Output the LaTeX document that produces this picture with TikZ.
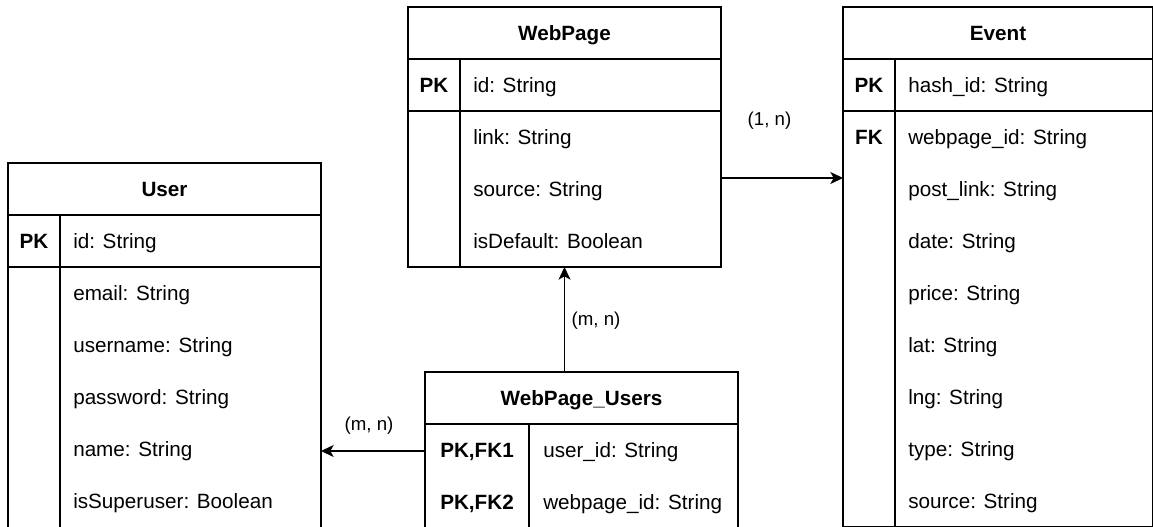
\documentclass[tikz,border=0pt]{standalone}
\usepackage{fontspec}
\setmainfont{Liberation Sans}
\usetikzlibrary{arrows.meta,calc}
\begin{document}
\begin{tikzpicture}[x=0.75pt,y=-0.75pt,
  tbl/.style={draw, line width=1.1pt, anchor=north west, inner sep=0pt, outer sep=0pt},
  sepline/.style={line width=1.1pt},
  title/.style={font=\bfseries\fontsize{15.5}{18}\selectfont, inner sep=0pt, anchor=base, yshift=-5.5pt},
  keyt/.style={font=\bfseries\fontsize{15.5}{18}\selectfont, inner sep=0pt, anchor=base, yshift=-5.5pt},
  field/.style={font=\fontsize{15.5}{18}\selectfont, inner sep=0pt, anchor=base west, yshift=-5.5pt},
  lbl/.style={font=\fontsize{14}{16}\selectfont, inner sep=0pt},
  rel/.style={line width=1.1pt, -{Stealth[length=9.5pt,width=9pt,inset=2.5pt]}}
]
\clip (0,0) rectangle (1153,526);
\useasboundingbox (0,0) rectangle (1153,526);
\fill[white] (0,0) rectangle (1153,526);

% ---------- WebPage ----------
\node[tbl, minimum width=234.75pt, minimum height=195pt] (webpage) at (408,7) {};
\draw[sepline] (408,59) -- (721,59);
\draw[sepline] (408,111) -- (721,111);
\draw[sepline] (460,59) -- (460,267);
\node[title] (wpT) at (564.5,33) {WebPage};
\node[keyt] (wpK1) at (434,85) {PK};
\node[field] (wpF1) at (473,85) {id: String};
\node[field] (wpF2) at (473,137) {link: String};
\node[field] (wpF3) at (473,189) {source: String};
\node[field] (wpF4) at (473,241) {isDefault: Boolean};

% ---------- Event ----------
\node[tbl, minimum width=232.4pt, minimum height=390pt] (event) at (843,7) {};
\draw[sepline] (843,59) -- (1153,59);
\draw[sepline] (843,111) -- (1153,111);
\draw[sepline] (895,59) -- (895,527);
\node[title] (evT) at (998,33) {Event};
\node[keyt] (evK1) at (869,85) {PK};
\node[field] (evF1) at (908,85) {hash\_id: String};
\node[keyt] (evK2) at (869,137) {FK};
\node[field] (evF2) at (908,137) {webpage\_id: String};
\node[field] (evF3) at (908,189) {post\_link: String};
\node[field] (evF4) at (908,241) {date: String};
\node[field] (evF5) at (908,293) {price: String};
\node[field] (evF6) at (908,345) {lat: String};
\node[field] (evF7) at (908,397) {lng: String};
\node[field] (evF8) at (908,449) {type: String};
\node[field] (evF9) at (908,501) {source: String};

% ---------- User ----------
\node[tbl, minimum width=234.75pt, minimum height=312pt] (user) at (8,163) {};
\draw[sepline] (8,215) -- (321,215);
\draw[sepline] (8,267) -- (321,267);
\draw[sepline] (60,215) -- (60,579);
\node[title] (usT) at (164.5,189) {User};
\node[keyt] (usK1) at (34,241) {PK};
\node[field] (usF1) at (73,241) {id: String};
\node[field] (usF2) at (73,293) {email: String};
\node[field] (usF3) at (73,345) {username: String};
\node[field] (usF4) at (73,397) {password: String};
\node[field] (usF5) at (73,449) {name: String};
\node[field] (usF6) at (73,501) {isSuperuser: Boolean};

% ---------- WebPage_Users ----------
\node[tbl, minimum width=234.75pt, minimum height=117pt] (wpu) at (425,372) {};
\draw[sepline] (425,424) -- (738,424);
\draw[sepline] (529,424) -- (529,528);
\node[title] (wuT) at (581.5,398) {WebPage\_Users};
\node[keyt] (wuK1) at (477,450) {PK,FK1};
\node[field] (wuF1) at (543,450) {user\_id: String};
\node[keyt] (wuK2) at (477,502) {PK,FK2};
\node[field] (wuF2) at (543,502) {webpage\_id: String};

% ---------- relations ----------
\draw[rel] ($(webpage.north east)+(0,171)$) -- ($(event.north west)+(0,171)$);
\node[lbl] (l1) at (769.5,121) {(1, n)};

\draw[rel] (webpage.south |- wpu.north) -- (webpage.south);
\node[lbl] (l2) at (596,321) {(m, n)};

\coordinate (wuRow) at (0,451);
\draw[rel] (wpu.west |- wuRow) -- (user.east |- wuRow);
\node[lbl] (l3) at (369,426) {(m, n)};
\end{tikzpicture}
\end{document}
